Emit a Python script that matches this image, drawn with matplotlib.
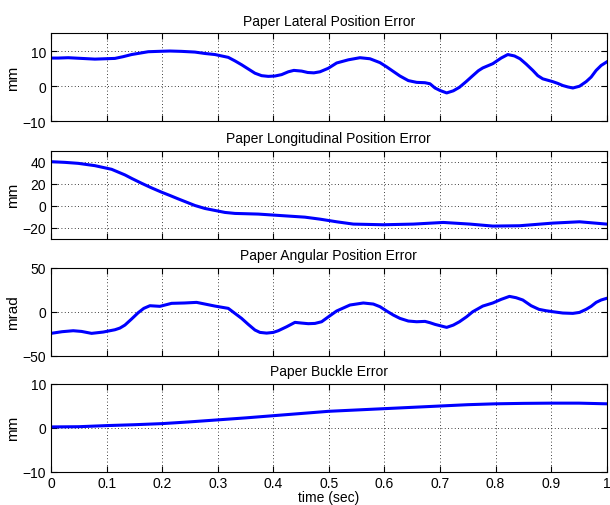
import matplotlib
matplotlib.use("Agg")
import matplotlib.pyplot as plt
import numpy as np

plt.rcParams["font.family"] = ["Liberation Sans", "DejaVu Sans"]
plt.rcParams["font.size"] = 10

# Paper lateral position error (mm)
lat_t = [0.0, 0.013, 0.031, 0.055, 0.079, 0.097, 0.115, 0.130, 0.145, 0.160,
         0.175, 0.193, 0.214, 0.235, 0.259, 0.277, 0.295, 0.319, 0.331, 0.343,
         0.355, 0.367, 0.379, 0.391, 0.403, 0.415, 0.427, 0.437, 0.451, 0.462,
         0.473, 0.484, 0.499, 0.514, 0.535, 0.556, 0.574, 0.592, 0.604, 0.616,
         0.628, 0.643, 0.658, 0.673, 0.682, 0.691, 0.700, 0.712, 0.724, 0.735,
         0.747, 0.759, 0.769, 0.777, 0.795, 0.810, 0.822, 0.834, 0.844, 0.855,
         0.867, 0.876, 0.885, 0.894, 0.903, 0.912, 0.921, 0.930, 0.939, 0.951,
         0.963, 0.972, 0.981, 0.990, 1.0]
lat_v = [8.0, 8.0, 8.1, 7.9, 7.7, 7.8, 7.9, 8.4, 9.0, 9.4,
         9.8, 9.9, 10.0, 9.9, 9.7, 9.3, 9.0, 8.2, 7.2, 6.1,
         4.9, 3.7, 3.0, 2.8, 2.9, 3.3, 4.1, 4.5, 4.3, 3.9,
         3.8, 4.1, 5.1, 6.6, 7.5, 8.1, 7.8, 6.7, 5.5, 4.2,
         2.9, 1.6, 1.1, 1.0, 0.7, -0.5, -1.2, -1.9, -1.3, -0.3,
         1.3, 3.0, 4.4, 5.2, 6.4, 8.0, 9.0, 8.6, 7.8, 6.3,
         4.5, 3.0, 2.1, 1.7, 1.3, 0.8, 0.2, -0.2, -0.5, 0.0,
         1.3, 2.6, 4.5, 5.9, 6.9]

# Paper longitudinal position error (mm)
lon_t = [0.0, 0.025, 0.049, 0.079, 0.109, 0.133, 0.146, 0.163, 0.181, 0.199,
         0.214, 0.229, 0.244, 0.259, 0.277, 0.295, 0.313, 0.331, 0.373, 0.409,
         0.457, 0.484, 0.514, 0.544, 0.598, 0.652, 0.706, 0.754, 0.795, 0.843,
         0.903, 0.951, 1.0]
lon_v = [40.1, 39.5, 38.6, 36.5, 33.2, 28.1, 24.7, 20.5, 16.3, 12.4,
         9.4, 6.3, 3.3, 0.3, -2.4, -4.2, -6.0, -6.9, -7.5, -8.7,
         -10.3, -12.1, -14.5, -16.6, -17.2, -16.6, -15.1, -16.6, -18.4, -18.1,
         -15.7, -14.5, -16.6]

# Paper angular position error (mrad)
ang_t = [0.0, 0.020, 0.040, 0.055, 0.073, 0.094, 0.115, 0.124, 0.133, 0.145,
         0.157, 0.167, 0.178, 0.196, 0.217, 0.240, 0.262, 0.277, 0.295, 0.319,
         0.331, 0.343, 0.355, 0.367, 0.376, 0.388, 0.400, 0.409, 0.424, 0.439,
         0.451, 0.463, 0.475, 0.487, 0.499, 0.514, 0.538, 0.562, 0.580, 0.592,
         0.604, 0.616, 0.628, 0.643, 0.658, 0.673, 0.682, 0.691, 0.712, 0.724,
         0.735, 0.748, 0.759, 0.777, 0.795, 0.810, 0.825, 0.837, 0.849, 0.864,
         0.878, 0.891, 0.903, 0.921, 0.939, 0.951, 0.963, 0.972, 0.981, 0.990,
         1.0]
ang_v = [-24.6, -22.7, -21.6, -22.4, -24.6, -23.1, -20.5, -18.6, -15.2, -8.3,
         -1.1, 3.8, 6.8, 6.1, 9.5, 9.9, 10.6, 8.7, 6.4, 3.8,
         -1.9, -7.6, -14.4, -20.8, -23.5, -24.3, -23.5, -21.6, -17.1, -12.1,
         -12.9, -13.6, -13.3, -11.4, -5.9, 0.8, 7.6, 9.9, 8.7, 5.7,
         0.8, -3.8, -7.6, -10.6, -11.4, -11.0, -12.5, -14.4, -17.8, -15.2,
         -11.4, -5.7, 0.0, 6.4, 9.9, 14.0, 17.4, 15.9, 13.3, 6.8,
         2.7, 1.1, 0.0, -1.5, -1.9, -0.8, 2.7, 6.1, 10.6, 13.3,
         15.2]

# Paper buckle error (mm)
buc_t = [0.0, 0.05, 0.1, 0.15, 0.2, 0.25, 0.3, 0.35, 0.4, 0.45, 0.5, 0.55,
         0.6, 0.65, 0.7, 0.75, 0.8, 0.85, 0.9, 0.95, 1.0]
buc_v = [0.15, 0.2, 0.45, 0.65, 0.9, 1.3, 1.75, 2.2, 2.7, 3.2, 3.7, 4.0,
         4.3, 4.6, 4.9, 5.2, 5.4, 5.5, 5.55, 5.55, 5.4]

panels = [
    ("Paper Lateral Position Error", "mm", lat_t, lat_v, (-10, 15), [-10, 0, 10]),
    ("Paper Longitudinal Position Error", "mm", lon_t, lon_v, (-30, 50), [-20, 0, 20, 40]),
    ("Paper Angular Position Error", "mrad", ang_t, ang_v, (-50, 50), [-50, 0, 50]),
    ("Paper Buckle Error", "mm", buc_t, buc_v, (-10, 10), [-10, 0, 10]),
]

fig = plt.figure(figsize=(6.1, 5.06), dpi=100)
bottoms = [0.758, 0.526, 0.295, 0.066]
xticks = np.round(np.arange(0, 1.01, 0.1), 1)

for i, (title, ylab, t, v, ylim, yticks) in enumerate(panels):
    ax = fig.add_axes([0.0836, bottoms[i], 0.911, 0.174])
    ax.plot(t, v, color="#0000ff", lw=2.2, solid_joinstyle="round")
    ax.set_xlim(0, 1)
    ax.set_ylim(*ylim)
    ax.set_yticks(yticks)
    ax.set_xticks(xticks)
    ax.set_title(title, fontsize=10, pad=6)
    ax.set_ylabel(ylab, fontsize=11, labelpad=2)
    ax.grid(True, linestyle=(0, (1, 3)), color="black", lw=0.6)
    ax.tick_params(direction="in", top=True, right=True, length=4, width=0.8, labelsize=10)
    for s in ax.spines.values():
        s.set_linewidth(0.8)
    if i < 3:
        ax.set_xticklabels([])
    else:
        ax.set_xticklabels([f"{x:g}" for x in xticks])
        ax.set_xlabel("time (sec)", fontsize=10, labelpad=0)

fig.savefig("out.png", dpi=100)
